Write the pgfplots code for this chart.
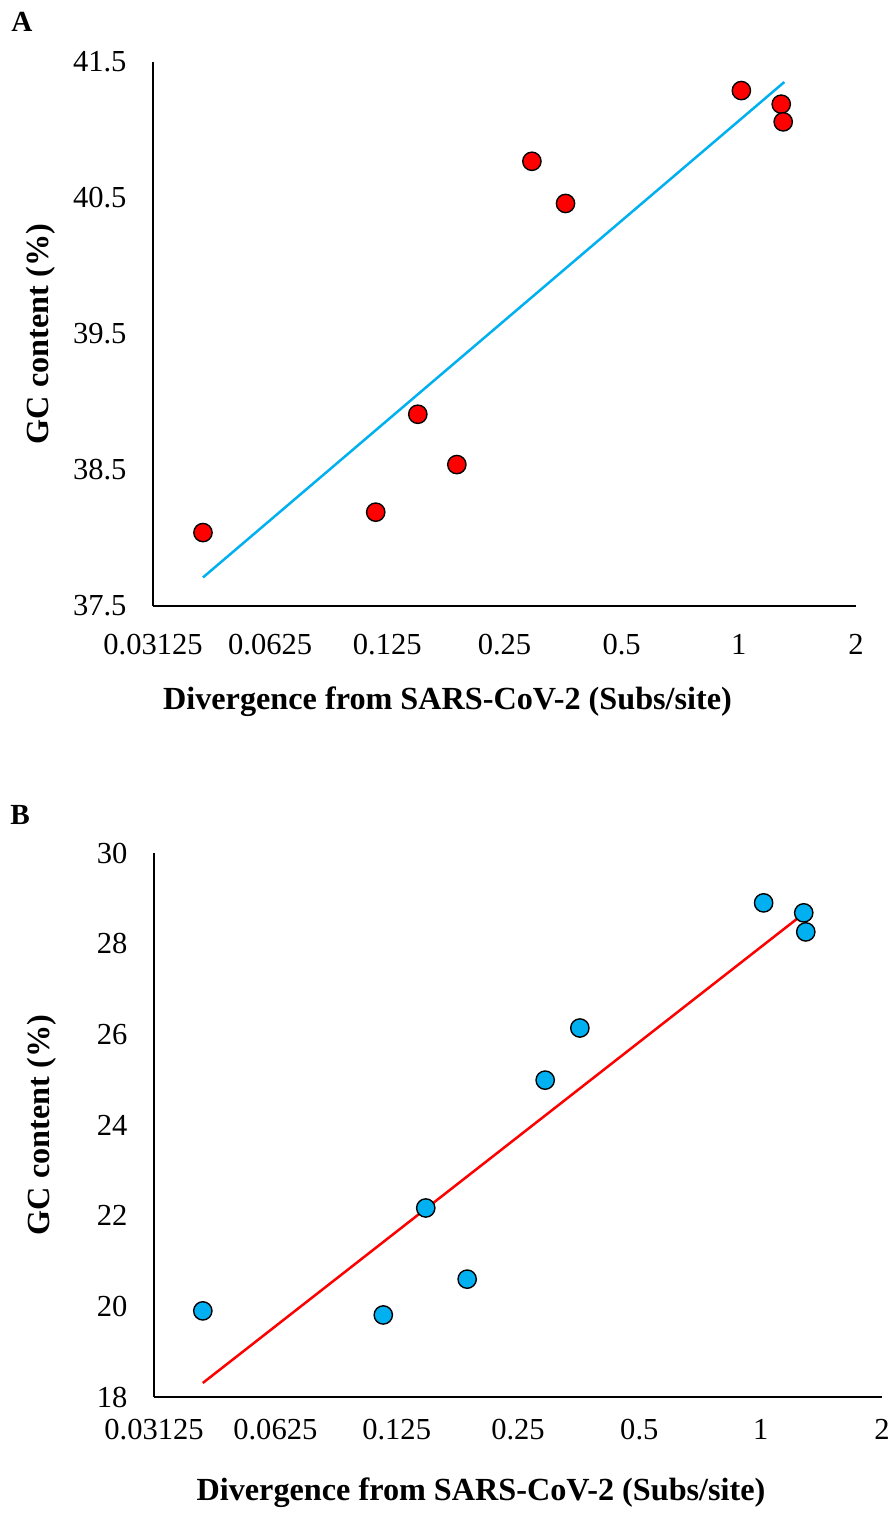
\documentclass[border=0pt]{standalone}
\usepackage{fontspec}
\setmainfont{Liberation Serif}
\usepackage{pgfplots}
\pgfplotsset{compat=1.18}
\definecolor{ptred}{RGB}{255,0,0}
\definecolor{ptblue}{RGB}{0,176,240}

% 1 px of the reference = 0.36pt
\pgfplotsset{gcpanel/.style={
  scale only axis, height=195.84pt,
  xmin=0.03125, xmax=2,
  xtick={0.03125,0.0625,0.125,0.25,0.5,1,2},
  xticklabels={0.03125,0.0625,0.125,0.25,0.5,1,2},
  axis lines*=left,
  major tick length=0pt,
  axis line style={line width=0.6pt, black},
  tick label style={font=\fontsize{11}{13}\selectfont},
  /pgf/number format/assume math mode=true,
  yticklabel style={xshift=-6pt},
  label style={font=\fontsize{11.6}{14}\selectfont\bfseries},
  ylabel={GC content (\%)},
  xlabel={Divergence from SARS-CoV-2 (Subs/site)},
  clip=false,
}}

\begin{document}
\begin{tikzpicture}
\path[use as bounding box] (0,0) rectangle (321.48pt,-546.12pt);

\node[font=\fontsize{10.5}{12}\selectfont\bfseries] at (7.9pt,-7.9pt) {A};
\node[font=\fontsize{10.5}{12}\selectfont\bfseries] at (7.2pt,-293.4pt) {B};

% panel A
\begin{axis}[xmode=log, log basis x=2, gcpanel,
  at={(55.08pt,-218.16pt)}, anchor=south west, width=253.08pt,
  ymin=37.5, ymax=41.5, ytick={37.5,38.5,39.5,40.5,41.5},
  yticklabels={37.5,38.5,39.5,40.5,41.5},
  xticklabel style={yshift=-6.7pt},
  xlabel style={at={(axis description cs:0.5,0)}, anchor=center, yshift=-34.56pt, xshift=-20.5pt},
  ylabel style={at={(axis description cs:-0.1592,0.5)}, anchor=center},
]
\addplot[only marks, mark=*, mark size=3.3pt,
  mark options={fill=ptred, draw=black, line width=0.5pt}] coordinates {
  (0.0420,38.04) (0.1167,38.19) (0.1497,38.91) (0.1886,38.54)
  (0.294,40.77) (0.3587,40.46) (1.015,41.29) (1.285,41.19) (1.30,41.06)};
\addplot[ptblue, line width=0.9pt] coordinates {(0.0420,37.71) (1.309,41.353)};
\end{axis}

% panel B
\begin{axis}[xmode=log, log basis x=2, gcpanel,
  at={(55.44pt,-502.92pt)}, anchor=south west, width=262.08pt,
  ymin=18, ymax=30, ytick={18,20,...,30},
  xticklabel style={yshift=-4.6pt},
  xlabel style={at={(axis description cs:0.5,0)}, anchor=center, yshift=-34.56pt, xshift=-13.3pt},
  ylabel style={at={(axis description cs:-0.1538,0.5)}, anchor=center},
]
\addplot[only marks, mark=*, mark size=3.3pt,
  mark options={fill=ptblue, draw=black, line width=0.5pt}] coordinates {
  (0.0413,19.90) (0.1158,19.81) (0.1476,22.17) (0.187,20.60)
  (0.292,24.99) (0.356,26.14) (1.017,28.90) (1.279,28.68) (1.294,28.26)};
\addplot[ptred, line width=0.9pt] coordinates {(0.0413,18.31) (1.294,28.70)};
\end{axis}
\end{tikzpicture}
\end{document}
